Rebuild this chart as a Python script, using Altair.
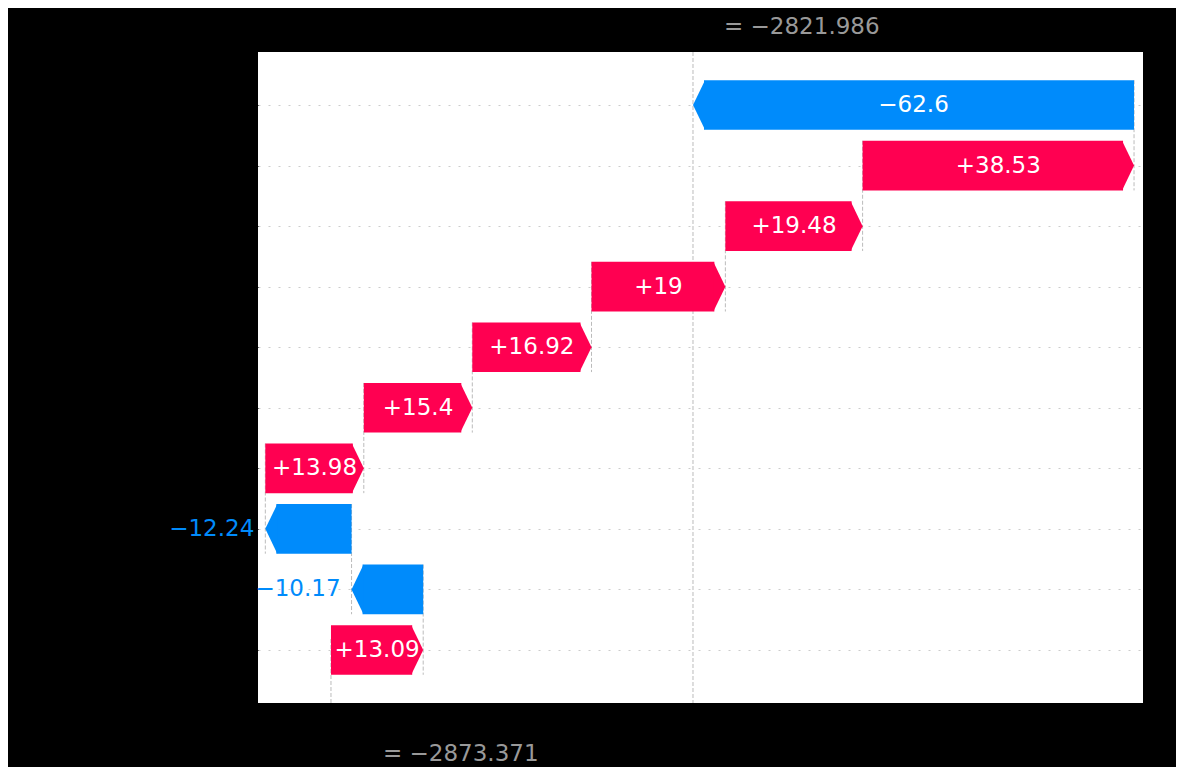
import altair as alt
import pandas as pd

# ---- data (SHAP waterfall) ----
features = ["Feature 24", "Feature 26", "Feature 28", "Feature 25", "Feature 18",
            "Feature 14", "Feature 22", "Feature 20", "Feature 8", "21 other features"]
shap_values = [-62.6, 38.53, 19.48, 19.0, 16.92, 15.4, 13.98, -12.24, -10.17, 13.09]
base_value = -2873.371
fx_value = -2821.986
x_limits = [-2883.73, -2758.11]

RED = "#ff0051"
BLUE = "#008bfb"
FONT = "DejaVu Sans"
W, H = 885, 651
n = len(features)
y_limits = [-0.876, n - 1 + 0.876]
px_per_unit = W / (x_limits[1] - x_limits[0])
px_per_row = H / (y_limits[1] - y_limits[0])
HEAD_PX = 11
head = HEAD_PX / px_per_unit  # arrow head length in data units
half = 0.41
hh = half * px_per_row  # half bar height in px
tip = HEAD_PX / hh
head_size = (2 * hh) ** 2
path_right = "M-0.04,-1L%.4f,0L-0.04,1Z" % tip
path_left = "M0.04,-1L%.4f,0L0.04,1Z" % (-tip)


def fmt(v):
    s = "%+0.02f" % v
    s = s.rstrip("0").rstrip(".")
    return s.replace("-", "\u2212")


# start / end of each bar (row 0 at the top, cumulative from the bottom)
starts, ends = [0.0] * n, [0.0] * n
acc = base_value
for r in range(n - 1, -1, -1):
    starts[r] = acc
    acc += shap_values[r]
    ends[r] = acc

body, heads_r, heads_l = [], [], []
for r in range(n):
    s, e, v = starts[r], ends[r], shap_values[r]
    if v >= 0:
        body.append({"x": s, "x2": e - head, "y": r - half, "y2": r + half, "color": RED})
        heads_r.append({"x": e - head, "y": r, "color": RED})
    else:
        body.append({"x": e + head, "x2": s, "y": r - half, "y2": r + half, "color": BLUE})
        heads_l.append({"x": e + head, "y": r, "color": BLUE})
body_df = pd.DataFrame(body)
hr_df = pd.DataFrame(heads_r)
hl_df = pd.DataFrame(heads_l)

# connector lines
conn = []
for r in range(n - 1):
    conn.append({"x": starts[r], "y": r - half, "y2": r + 1 + half})
conn.append({"x": base_value, "y": y_limits[1], "y2": y_limits[1] - (y_limits[1] - y_limits[0]) / n})
conn.append({"x": fx_value, "y": y_limits[0], "y2": y_limits[1]})
conn_df = pd.DataFrame(conn)

# labels
lab = []
for r in range(n):
    v = shap_values[r]
    t = fmt(v)
    tw = len(t) * 0.64 * 23
    inside = abs(v) * px_per_unit > tw
    lab.append({"xc": (starts[r] + ends[r]) / 2, "x": ends[r], "y": r, "label": t,
                "inside": inside, "pos": v >= 0})
lab_df = pd.DataFrame(lab)
in_df = lab_df[lab_df.inside]
out_neg = lab_df[(~lab_df.inside) & (~lab_df.pos)]
out_pos = lab_df[(~lab_df.inside) & (lab_df.pos)]

xs = alt.Scale(domain=x_limits, nice=False, zero=False)
ys = alt.Scale(domain=y_limits, nice=False, zero=False, reverse=True)

label_expr = "[" + ",".join("'%s'" % f for f in features) + "][datum.value]"

rules = alt.Chart(conn_df).mark_rule(color="#bbbbbb", strokeDash=[4, 2], strokeWidth=1).encode(
    x=alt.X("x:Q", scale=xs, axis=alt.Axis(title=None, grid=False, labelColor="black",
                                           tickColor="black", domainColor="black",
                                           labelFontSize=19, labelFont=FONT, tickSize=7)),
    y=alt.Y("y:Q", scale=ys, axis=alt.Axis(title=None, values=list(range(n)), labelExpr=label_expr,
                                           labelFontSize=25, labelFont=FONT, labelColor="black",
                                           tickColor="black", tickSize=7, labelPadding=8,
                                           domain=False, grid=True, gridColor="#cccccc",
                                           gridDash=[2, 8], gridWidth=1)),
    y2="y2:Q",
)

bars = alt.Chart(body_df).mark_rect(strokeWidth=0).encode(
    x=alt.X("x:Q", scale=xs),
    x2="x2:Q",
    y=alt.Y("y:Q", scale=ys),
    y2="y2:Q",
    color=alt.Color("color:N", scale=None),
)

heads_right = alt.Chart(hr_df).mark_point(shape=path_right, filled=True, size=head_size,
                                           opacity=1, strokeWidth=0).encode(
    x=alt.X("x:Q", scale=xs), y=alt.Y("y:Q", scale=ys),
    color=alt.Color("color:N", scale=None))
heads_left = alt.Chart(hl_df).mark_point(shape=path_left, filled=True, size=head_size,
                                          opacity=1, strokeWidth=0).encode(
    x=alt.X("x:Q", scale=xs), y=alt.Y("y:Q", scale=ys),
    color=alt.Color("color:N", scale=None))

txt_in = alt.Chart(in_df).mark_text(color="white", fontSize=23, font=FONT, align="center",
                                    baseline="middle").encode(
    x=alt.X("xc:Q", scale=xs), y=alt.Y("y:Q", scale=ys), text="label:N")
txt_neg = alt.Chart(out_neg).mark_text(color=BLUE, fontSize=23, font=FONT, align="right",
                                       baseline="middle", dx=-11).encode(
    x=alt.X("x:Q", scale=xs), y=alt.Y("y:Q", scale=ys), text="label:N")
layers = [rules, bars, heads_right, heads_left, txt_in, txt_neg]
if len(out_pos):
    layers.append(alt.Chart(out_pos).mark_text(color=RED, fontSize=23, font=FONT, align="left",
                                               baseline="middle", dx=11).encode(
        x=alt.X("x:Q", scale=xs), y=alt.Y("y:Q", scale=ys), text="label:N"))

fx_txt = "= " + ("%0.03f" % fx_value).replace("-", "\u2212")
base_txt = "= " + ("%0.03f" % base_value).replace("-", "\u2212")
top_df = pd.DataFrame({"x": [fx_value], "a": ["f(x)"], "b": [fx_txt]})
bot_df = pd.DataFrame({"x": [base_value], "a": ["E[f(X)]"], "b": [base_txt]})

layers += [
    alt.Chart(top_df).mark_text(color="black", fontSize=23, font=FONT, align="left",
                                baseline="middle", dx=-19).encode(
        x=alt.X("x:Q", scale=xs), y=alt.value(-25), text="a:N"),
    alt.Chart(top_df).mark_text(color="#999999", fontSize=23, font=FONT, align="left",
                                baseline="middle", dx=31).encode(
        x=alt.X("x:Q", scale=xs), y=alt.value(-25), text="b:N"),
    alt.Chart(bot_df).mark_text(color="black", fontSize=23, font=FONT, align="left",
                                baseline="middle", dx=-19).encode(
        x=alt.X("x:Q", scale=xs), y=alt.value(702), text="a:N"),
    alt.Chart(bot_df).mark_text(color="#999999", fontSize=23, font=FONT, align="left",
                                baseline="middle", dx=52).encode(
        x=alt.X("x:Q", scale=xs), y=alt.value(702), text="b:N"),
]

chart = alt.layer(*layers).properties(
    width=W, height=H,
    autosize=alt.AutoSizeParams(type="none"),
    padding={"left": 250, "top": 44, "right": 33, "bottom": 64},
    background="black",
).configure_view(fill="white", stroke=None)

chart.save("out.html", embed_options={"renderer": "svg", "actions": False})
